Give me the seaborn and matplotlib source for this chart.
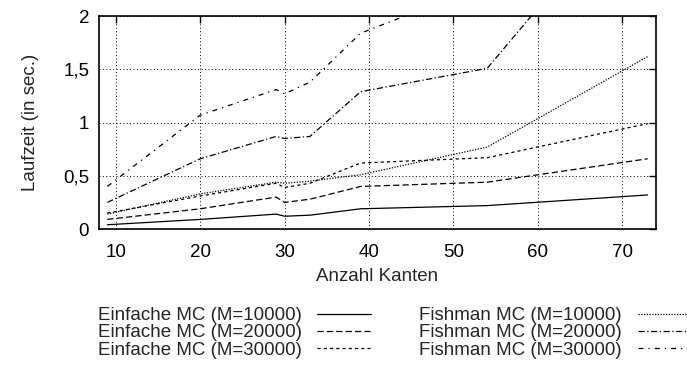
import matplotlib
matplotlib.use("Agg")
import matplotlib.pyplot as plt
import seaborn as sns
import pandas as pd
from matplotlib.ticker import FuncFormatter

sns.set_style("white")
plt.rcParams['font.family'] = ['Liberation Sans', 'DejaVu Sans']

kanten = [9, 20, 29, 30, 33, 39, 54, 73]
einfache_10000 = [0.04, 0.09, 0.14, 0.12, 0.13, 0.19, 0.22, 0.32]
einfache_20000 = [0.09, 0.19, 0.30, 0.25, 0.28, 0.40, 0.44, 0.66]
einfache_30000 = [0.15, 0.31, 0.43, 0.39, 0.43, 0.62, 0.67, 0.99]
fishman_10000 = [0.14, 0.33, 0.44, 0.43, 0.45, 0.51, 0.77, 1.62]
fishman_20000 = [0.25, 0.66, 0.87, 0.85, 0.87, 1.29, 1.51, 3.30]
fishman_30000 = [0.40, 1.07, 1.31, 1.27, 1.38, 1.84, 2.30, 3.50]

labels = ["Einfache MC (M=10000)", "Einfache MC (M=20000)", "Einfache MC (M=30000)",
          "Fishman MC (M=10000)", "Fishman MC (M=20000)", "Fishman MC (M=30000)"]
series = [einfache_10000, einfache_20000, einfache_30000,
          fishman_10000, fishman_20000, fishman_30000]
styles = ['-', (0, (5, 2.5)), (0, (2.5, 2.5)), (0, (1, 1.2)),
          (0, (5, 2, 1, 2)), (0, (4, 4, 1, 4))]

fig = plt.figure(figsize=(6.87, 3.67), dpi=100)
ax = fig.add_axes([0.144, 0.376, 0.811, 0.580])

for lab, vals, ls in zip(labels, series, styles):
    df = pd.DataFrame({"x": kanten, "y": vals})
    sns.lineplot(data=df, x="x", y="y", ax=ax, color='black', linewidth=0.9,
                 linestyle=ls, label=lab, legend=False)

ax.set_xlim(8, 74)
ax.set_ylim(0, 2)
ax.set_xticks([10, 20, 30, 40, 50, 60, 70])
ax.set_yticks([0, 0.5, 1, 1.5, 2])
ax.yaxis.set_major_formatter(FuncFormatter(lambda v, p: f"{v:g}".replace('.', ',')))
ax.grid(True, color='black', linestyle=(0, (1, 2.5)), linewidth=0.7)
ax.tick_params(direction='in', length=5, width=1, top=True, right=True,
               labelsize=13.5, colors='black')
ax.tick_params(axis='x', pad=11)
ax.tick_params(axis='y', pad=7)
for s in ax.spines.values():
    s.set_color('black')
    s.set_linewidth(1.2)
ax.set_xlabel("Anzahl Kanten", fontsize=13.5, labelpad=5)
ax.set_ylabel("Laufzeit (in sec.)", fontsize=13.5, labelpad=17)

handles, labs = ax.get_legend_handles_labels()
fig.legend(handles, labs, loc='upper left', bbox_to_anchor=(0.142, 0.163),
           ncol=2, frameon=False, markerfirst=False, fontsize=13.5,
           handlelength=2.83, labelspacing=0.0, columnspacing=2.6,
           handletextpad=0.85, borderpad=0, borderaxespad=0)

fig.savefig("out.png", dpi=100)
